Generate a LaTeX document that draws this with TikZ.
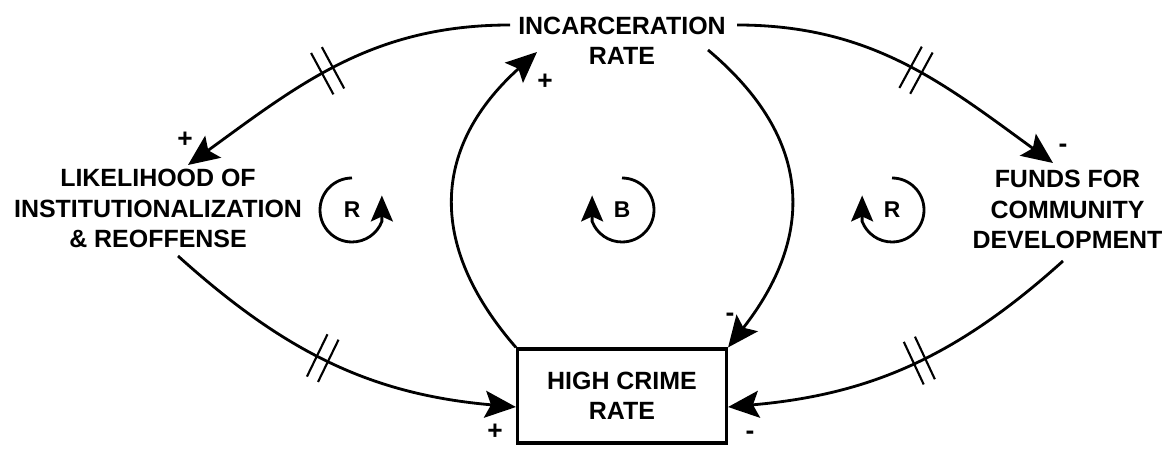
\documentclass[tikz,border=0pt]{standalone}
\usepackage{fontspec}
\setmainfont{Liberation Sans}
\usetikzlibrary{arrows.meta,decorations.markings}
\tikzset{
 var/.style={align=center,font=\fontsize{14.2}{17.3}\selectfont\bfseries,inner sep=2pt},
 stock/.style={var,draw,line width=1.8pt,minimum width=4.18cm,minimum height=1.88cm},
 link/.style={line width=1.6pt,-{Stealth[length=6.2mm,width=5.4mm,inset=1.2mm]}},
 delay/.style={postaction={decorate,decoration={markings,mark=at position #1 with
   {\draw[-,line width=1.2pt] (-3.5pt,-0.47cm)--(-3.5pt,0.47cm) (3.5pt,-0.47cm)--(3.5pt,0.47cm);}}}},
 sign/.style={font=\fontsize{15}{17}\selectfont\bfseries,inner sep=0pt},
 loopid/.style={font=\fontsize{13}{15}\selectfont\bfseries,inner sep=0pt},
 looparc/.style={line width=1.6pt,-{Stealth[length=5.2mm,width=4.4mm,inset=1mm]}}
}
\begin{document}
\begin{tikzpicture}[x=0.02cm,y=0.02cm]
\useasboundingbox (0,0) rectangle (1175,456);
% variables
\node[var] (inc) at (622,415) {INCARCERATION\\RATE};
\node[var] (lik) at (158,247.5) {LIKELIHOOD OF\\INSTITUTIONALIZATION\\\& REOFFENSE};
\node[var] (fund) at (1067.5,246.5) {FUNDS FOR\\COMMUNITY\\DEVELOPMENT};
\node[stock] (crime) at (622,60) {HIGH CRIME\\RATE};
% causal links
\draw[link,delay=0.53] ([shift={(-112,16)}]inc.center) to[out=180,in=36] ([shift={(30,43.5)}]lik.center);
\draw[link,delay=0.53] ([shift={(115,16)}]inc.center) to[out=0,in=144] ([shift={(-14.5,46.5)}]fund.center);
\draw[link,delay=0.47] ([shift={(20,-47.5)}]lik.center) to[out=-42,in=175] ([shift={(0,-11)}]crime.west);
\draw[link,delay=0.47] ([shift={(-4.5,-51.5)}]fund.center) to[out=-138,in=5] ([shift={(0,-11)}]crime.east);
\draw[link] (crime.north west) to[out=131,in=222,looseness=1.2] ([shift={(-85,-11)}]inc.center);
\draw[link] ([shift={(86,-9)}]inc.center) to[out=-40,in=52,looseness=1.2] (crime.north east);
% polarities
\node[sign] (p1) at (185,316) {+};
\node[sign] (p2) at (1063,308) {-};
\node[sign] (p3) at (545,374) {+};
\node[sign] (p4) at (730,139) {-};
\node[sign] (p5) at (495,24) {+};
\node[sign] (p6) at (750,21) {-};
% loop markers
\node[loopid] (r1) at (352,246) {R};
\node[loopid] (b) at (622,246) {B};
\node[loopid] (r2) at (892,246) {R};
\draw[looparc] ([shift={(90:0.64cm)}]r1.center) arc[start angle=90,end angle=339,radius=0.64cm] -- ++(0,26);
\draw[looparc] ([shift={(90:0.64cm)}]b.center) arc[start angle=90,end angle=-159,radius=0.64cm] -- ++(0,26);
\draw[looparc] ([shift={(90:0.64cm)}]r2.center) arc[start angle=90,end angle=-159,radius=0.64cm] -- ++(0,26);
\end{tikzpicture}
\end{document}
